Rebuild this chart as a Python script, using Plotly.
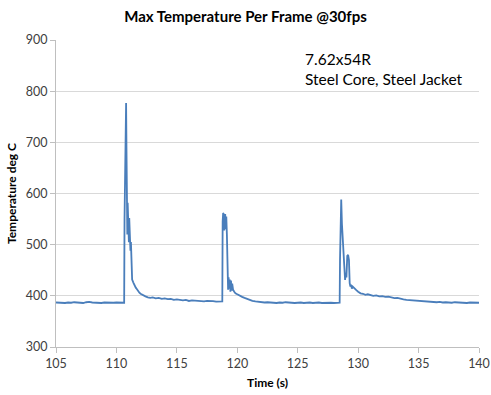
import plotly.graph_objects as go

title_text = "Max Temperature Per Frame @30fps"
x_title = "Time (s)"
y_title = "Temperature deg C"
note_lines = ["7.62x54R", "Steel Core, Steel Jacket"]

x_ticks = [105, 110, 115, 120, 125, 130, 135, 140]
y_ticks = [300, 400, 500, 600, 700, 800, 900]

time_s = [
    105.0, 105.25, 105.5, 105.75, 106.0, 106.25, 106.5, 106.75, 107.0, 107.25,
    107.5, 107.75, 108.0, 108.25, 108.5, 108.75, 109.0, 109.25, 109.5, 109.75,
    110.0, 110.25, 110.5, 110.64,
    110.67, 110.71, 110.75, 110.8, 110.83, 110.86, 110.9, 110.93, 110.96, 111.0,
    111.03, 111.06, 111.1, 111.13, 111.16, 111.2, 111.25, 111.3, 111.4, 111.5,
    111.6, 111.7, 111.8, 111.9, 112.0, 112.2, 112.4, 112.6, 112.8, 113.0,
    113.25, 113.5, 113.75, 114.0, 114.25, 114.5, 114.75, 115.0, 115.25, 115.5,
    115.75, 116.0, 116.25, 116.5, 116.75, 117.0, 117.25, 117.5, 117.75, 118.0,
    118.25, 118.5, 118.76,
    118.79, 118.83, 118.87, 118.92, 118.96, 119.0, 119.04, 119.09, 119.14, 119.19,
    119.24, 119.28, 119.33, 119.38, 119.43, 119.48, 119.53, 119.58, 119.65, 119.75,
    119.85, 120.0, 120.2, 120.4, 120.6, 120.8, 121.0, 121.25, 121.5, 121.75,
    122.0, 122.25, 122.5, 122.75, 123.0, 123.25, 123.5, 123.75, 124.0, 124.25,
    124.5, 124.75, 125.0, 125.25, 125.5, 125.75, 126.0, 126.25, 126.5, 126.75,
    127.0, 127.25, 127.5, 127.75, 128.0, 128.25, 128.47,
    128.5, 128.55, 128.6, 128.66, 128.72, 128.78, 128.85, 128.92, 128.97, 129.03,
    129.1, 129.17, 129.24, 129.3, 129.36, 129.42, 129.48, 129.55, 129.65, 129.75,
    129.85, 130.0, 130.2, 130.4, 130.6, 130.8, 131.0, 131.25, 131.5, 131.75,
    132.0, 132.25, 132.5, 132.75, 133.0, 133.25, 133.5, 133.75, 134.0, 134.25,
    134.5, 134.75, 135.0, 135.25, 135.5, 135.75, 136.0, 136.25, 136.5, 136.75,
    137.0, 137.25, 137.5, 137.75, 138.0, 138.25, 138.5, 138.75, 139.0, 139.25,
    139.5, 139.75, 140.0,
]

temp_c = [
    387, 386.5, 387, 386, 387, 386.5, 387.5, 386.5, 387, 386,
    387.5, 388, 387, 386.5, 387, 386, 387, 386.5, 387, 386.5,
    387, 386.5, 387, 386.5,
    550, 610, 700, 777, 690, 560, 520, 582, 555, 535,
    505, 552, 495, 528, 488, 505, 438, 432, 426, 420,
    416, 413, 409, 406, 404, 401, 399, 397, 396, 397,
    395, 396, 394, 395, 393.5, 394, 392, 393, 392, 391,
    392, 390, 391, 390.5, 389.5, 390, 389, 390, 389, 389.5,
    388.5, 389, 389,
    545, 562, 560, 528, 548, 560, 530, 555, 520, 470,
    412, 436, 414, 432, 408, 430, 410, 424, 412, 408,
    405, 403, 400, 398, 396, 394, 392, 390, 389, 388,
    388.5, 387, 387.5, 386.5, 387, 386, 387, 386.5, 387.5, 386.5,
    387, 386, 386.5, 387, 386, 386.5, 387, 386, 386.5, 387,
    386, 386.5, 387, 386.5, 386, 387, 386.5,
    470, 560, 588, 540, 503, 470, 460, 431, 445, 436,
    478, 480, 470, 425, 418, 422, 414, 418, 415, 413,
    411, 408, 405, 404, 402, 403, 401, 400, 401, 399,
    399.5, 398, 398.5, 397, 395.5, 396, 394, 393, 392, 391.5,
    390.5, 390, 389.5, 389, 389.5, 388.5, 388, 388.5, 387.5, 388,
    387, 387.5, 387, 386.5, 387.5, 387, 386.5, 387, 386, 387,
    386.5, 387, 386.5,
]

fig = go.Figure()
fig.add_trace(go.Scatter(
    x=time_s, y=temp_c, mode="lines",
    line=dict(color="#4A7EBB", width=1.8),
    showlegend=False, hoverinfo="skip",
))

fig.update_layout(
    width=491, height=395,
    margin=dict(l=56, r=12, t=40, b=48, autoexpand=False),
    paper_bgcolor="white", plot_bgcolor="white",
    font=dict(family="Lato, 'Open Sans', sans-serif", color="#595959", size=12),
    title=dict(text=title_text, x=0.5, xanchor="center", y=0.957, yanchor="middle",
               font=dict(size=15, color="#000000", family="Lato, sans-serif", weight="bold")),
    annotations=[
        dict(text="<br>".join(note_lines), xref="paper", yref="paper",
             x=0.585, y=0.975, xanchor="left", yanchor="top", align="left",
             showarrow=False, font=dict(size=15.5, color="#000000")),
    ],
)

fig.update_xaxes(
    range=[105, 140], tickvals=x_ticks, ticktext=[str(v) for v in x_ticks],
    showgrid=False, zeroline=False, automargin=False,
    showline=True, linecolor="#BFBFBF", linewidth=1,
    ticks="outside", ticklen=5, tickcolor="#BFBFBF",
    tickfont=dict(size=12.5, color="#404040"),
    title=dict(text=x_title, font=dict(size=12, color="#000000", weight="bold"), standoff=8),
)
fig.update_yaxes(
    range=[300, 900], tickvals=y_ticks, ticktext=[str(v) for v in y_ticks],
    showgrid=True, gridcolor="#D9D9D9", gridwidth=1, zeroline=False, automargin=False,
    showline=True, linecolor="#BFBFBF", linewidth=1,
    ticks="outside", ticklen=5, tickcolor="#BFBFBF",
    tickfont=dict(size=12.5, color="#404040"),
    title=dict(text=y_title, font=dict(size=12, color="#000000", weight="bold"), standoff=6),
)

fig.write_html("out.html")
